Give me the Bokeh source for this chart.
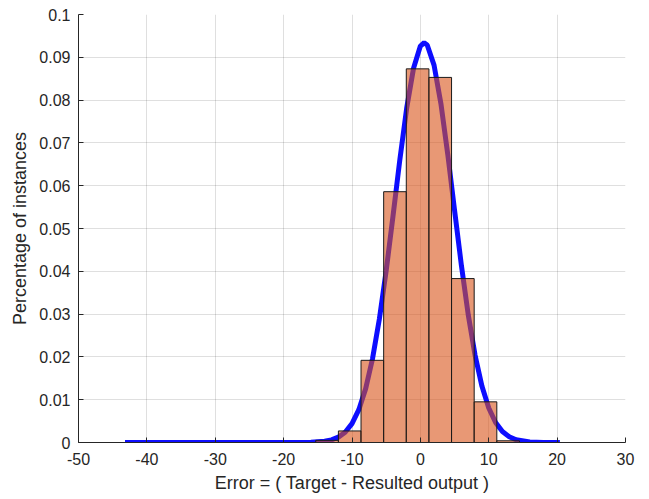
from bokeh.plotting import figure
from bokeh.models import Range1d, FixedTicker
from bokeh.embed import file_html
from bokeh.resources import INLINE

# Histogram of prediction errors (pdf-normalised), bin edges and heights
bin_left = [-15.3, -11.99, -8.68, -5.37, -2.06, 1.25, 4.56, 7.87, 11.18]
bin_width = 3.31
bin_height = [0.0005, 0.0027, 0.0192, 0.0586, 0.0873, 0.0853, 0.0383, 0.0095, 0.0004]

# Fitted normal density curve, sampled along the error axis
curve_x = [-43.2, -30, -20, -18, -16, -14, -13, -12, -11, -10, -9, -8, -7, -6, -5,
           -4, -3, -2, -1, 0, 0.55, 1, 2, 3, 4, 5, 6, 7, 8, 9, 10, 11, 12, 13,
           14, 16, 18, 20.4]
curve_y = [0.0, 0.0, 0.0, 0.00001, 0.00005, 0.00028, 0.00061, 0.00124, 0.00241,
           0.00442, 0.00766, 0.01259, 0.01957, 0.02881, 0.04013, 0.05294, 0.06611,
           0.07815, 0.08744, 0.09263, 0.0934, 0.09289, 0.08817, 0.07922, 0.06739,
           0.05427, 0.04137, 0.02985, 0.02039, 0.01318, 0.00807, 0.00468, 0.00257,
           0.00133, 0.00065, 0.00013, 0.00002, 0.0]

x_ticks = [-50, -40, -30, -20, -10, 0, 10, 20, 30]
x_tick_labels = ["-50", "-40", "-30", "-20", "-10", "0", "10", "20", "30"]
y_ticks = [0, 0.01, 0.02, 0.03, 0.04, 0.05, 0.06, 0.07, 0.08, 0.09, 0.1]
y_tick_labels = ["0", "0.01", "0.02", "0.03", "0.04", "0.05", "0.06", "0.07",
                 "0.08", "0.09", "0.1"]

FONT = "Liberation Sans"
INK = "#262626"

p = figure(width=649, height=499, output_backend="svg", toolbar_location=None,
           x_range=Range1d(-50, 30), y_range=Range1d(0, 0.1),
           min_border_left=78, min_border_right=24, min_border_top=14,
           min_border_bottom=57)
p.outline_line_color = None
p.background_fill_color = "white"
p.border_fill_color = "white"

# density curve first, histogram bars (semi-transparent) on top
p.line(curve_x, curve_y, line_color="#0000ff", line_width=5, line_alpha=0.95)

bin_right = [l + bin_width for l in bin_left]
p.quad(left=bin_left, right=bin_right, bottom=0, top=bin_height,
       fill_color=(217, 83, 25), fill_alpha=0.6,
       line_color="#1a1a1a", line_width=1)

for ax in (p.xaxis, p.yaxis):
    ax.axis_line_color = INK
    ax.axis_line_width = 1
    ax.major_tick_line_color = INK
    ax.major_tick_in = 5
    ax.major_tick_out = 0
    ax.minor_tick_line_color = None
    ax.major_label_text_font = FONT
    ax.major_label_text_font_size = "16px"
    ax.major_label_text_color = INK
    ax.axis_label_text_font = FONT
    ax.axis_label_text_font_size = "18px"
    ax.axis_label_text_font_style = "normal"
    ax.axis_label_text_color = INK

p.xaxis.ticker = FixedTicker(ticks=x_ticks)
p.yaxis.ticker = FixedTicker(ticks=y_ticks)
p.xaxis.major_label_overrides = {t: s for t, s in zip(x_ticks, x_tick_labels)}
p.yaxis.major_label_overrides = {t: s for t, s in zip(y_ticks, y_tick_labels)}
p.xaxis.major_label_standoff = 10
p.yaxis.major_label_standoff = 8
p.xaxis.axis_label = "Error = ( Target - Resulted output )"
p.yaxis.axis_label = "Percentage of instances"
p.xaxis.axis_label_standoff = 5
p.yaxis.axis_label_standoff = 6

for g in (p.xgrid, p.ygrid):
    g.grid_line_color = "#262626"
    g.grid_line_alpha = 0.15
    g.grid_line_width = 1

open("out.html", "w").write(file_html(p, INLINE))
